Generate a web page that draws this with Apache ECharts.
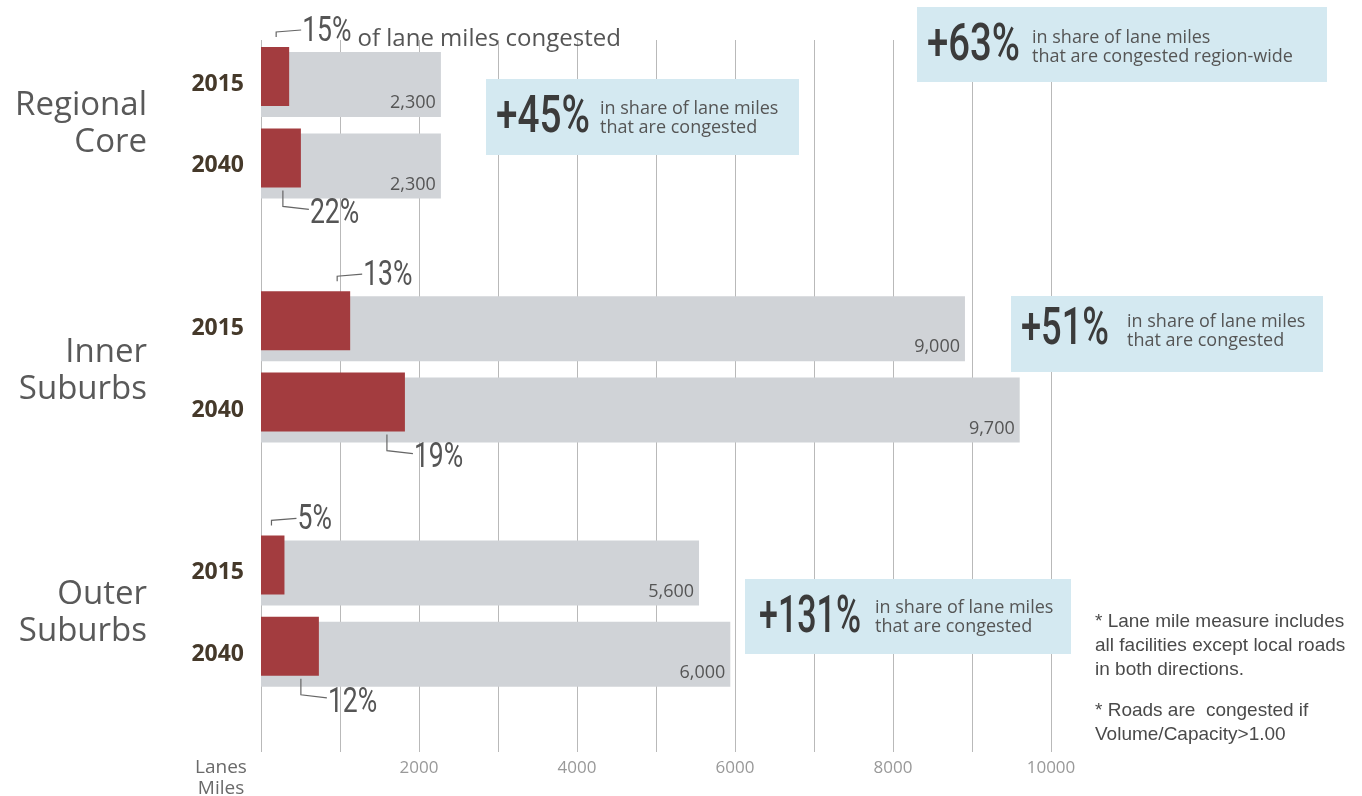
<!DOCTYPE html>
<html><head><meta charset="utf-8">
<script src="https://cdn.jsdelivr.net/npm/echarts@6/dist/echarts.min.js"></script>
<style>html,body{margin:0;padding:0;background:#fff}#c{width:1362px;height:796px}</style>
</head><body><div id="c"></div>
<script>
// ---- data ----
const rows = ['RC-2015','RC-2040','gap-1','IS-2015','IS-2040','gap-2','OS-2015','OS-2040'];
const yearLabels = ['2015','2040','','2015','2040','','2015','2040'];
const groups = ['Regional\nCore','Inner\nSuburbs','Outer\nSuburbs'];
const totalLaneMiles = [2300, 2300, null, 9000, 9700, null, 5600, 6000];
const congestedLaneMiles = [360, 510, null, 1140, 1840, null, 300, 740];
const congestedShare = ['15%','22%',null,'13%','19%',null,'5%','12%'];
const firstShareSuffix = 'of lane miles congested';
const changeBig = ['+45%','+63%','+51%','+131%'];
const changeText = ['in share of lane miles\nthat are congested','in share of lane miles\nthat are congested region-wide','in share of lane miles\nthat are congested','in share of lane miles\nthat are congested'];
const xTicks = [0,1000,2000,3000,4000,5000,6000,7000,8000,9000,10000];
const notes = ['* Lane mile measure includes\nall facilities except local roads\nin both directions.','* Roads are  congested if\nVolume/Capacity>1.00'];

// ---- chart ----
const chart = echarts.init(document.getElementById('c'), null, {renderer:'canvas'});
const SANS = '"Open Sans", "Noto Sans", sans-serif';
const BIG = 'Roboto, "Open Sans", sans-serif';
const band = 81.4;
const g0top = 43.8, g0h = band*8;
const hiddenX = (gi)=>({type:'value', gridIndex:gi, min:0, max:10100, show:false, splitLine:{show:false}});
const option = {
  animation:false,
  backgroundColor:'#fff',
  grid:[
    {left:261, width:790, top:g0top, height:g0h},
    {left:261, width:790, top:g0top-8, height:g0h},
    {left:261, width:790, top:40, bottom:44}
  ],
  xAxis:[
    hiddenX(0), hiddenX(1),
    {type:'value', gridIndex:2, min:xTicks[0], max:xTicks[xTicks.length-1], interval:1000,
     axisLine:{show:false}, axisTick:{show:false},
     splitLine:{show:true, lineStyle:{color:'#b9b9b9', width:1}},
     axisLabel:{margin:8, color:'#999', fontSize:17, fontFamily:SANS,
       formatter:v=> (v>0 && v%2000===0) ? String(v) : ''}}
  ],
  yAxis:[
    {type:'category', gridIndex:0, data:rows, inverse:true,
     axisLine:{show:false}, axisTick:{show:false}, splitLine:{show:false},
     axisLabel:{interval:0, margin:17, fontSize:23, fontWeight:'bold', color:'#45392a', fontFamily:SANS,
       padding:[0,0,6,0], formatter:(v,i)=>yearLabels[i]}},
    {type:'category', gridIndex:1, data:rows, inverse:true, show:false},
    {type:'value', gridIndex:2, show:false}
  ],
  series:[
    {type:'bar', name:'Lane miles', xAxisIndex:0, yAxisIndex:0, data:totalLaneMiles, barWidth:65,
     itemStyle:{color:'#d0d3d7'}, z:2,
     label:{show:true, position:'insideBottomRight', distance:5, color:'#555', fontSize:18, fontFamily:SANS,
       formatter:p=> p.value==null?'':Number(p.value).toLocaleString('en-US')}},
    {type:'bar', name:'Congested', xAxisIndex:1, yAxisIndex:1, data:congestedLaneMiles, barWidth:59,
     itemStyle:{color:'#a33c3f'}, z:3}
  ]
};
chart.setOption(option);

// ---- annotations computed through the chart's scales ----
const cv = document.createElement('canvas').getContext('2d');
function tw(text, size, fam, weight){ cv.font = (weight||'normal')+' '+size+'px '+fam; return cv.measureText(text).width; }
const G = [];
const pctSize = 35, pctScale = 0.76;
rows.forEach((r,i)=>{
  if (congestedLaneMiles[i]==null) return;
  const p = chart.convertToPixel({xAxisIndex:1, yAxisIndex:1}, [congestedLaneMiles[i], i]);
  const xEnd = p[0], yc = p[1];
  const top = yc - 29.5, bot = yc + 29.5;
  const upper = yearLabels[i]==='2015';
  let pts, tx, ty;
  if (upper){
    const ax = xEnd - 13;
    pts = [[ax, top-10],[ax, top-15],[ax+25, top-17]];
    tx = ax+26; ty = top-15;
  } else {
    const ax = xEnd - 18;
    pts = [[ax, bot+3],[ax, bot+19],[ax+26, bot+22]];
    tx = ax+27; ty = bot+27;
  }
  G.push({type:'polyline', shape:{points:pts}, style:{stroke:'#666', lineWidth:1.2, fill:null}, z:10});
  G.push({type:'text', x:tx, y:ty, scaleX:pctScale, z:10,
    style:{text:congestedShare[i], fontSize:pctSize, fontFamily:BIG, fill:'#555', verticalAlign:'middle', align:'left'}});
  if (i===0){
    const w = tw(congestedShare[i], pctSize, 'Roboto')*pctScale;
    G.push({type:'text', x:tx+w+6, y:ty+7, z:10,
      style:{text:firstShareSuffix, fontSize:24, fontFamily:SANS, fill:'#555', verticalAlign:'middle', align:'left'}});
  }
});
// group labels centred between their two rows
groups.forEach((g,k)=>{
  const a = chart.convertToPixel({xAxisIndex:0, yAxisIndex:0}, [0, k*3]);
  const b = chart.convertToPixel({xAxisIndex:0, yAxisIndex:0}, [0, k*3+1]);
  const dy = k===1 ? 2 : -1;
  G.push({type:'text', x:147, y:(a[1]+b[1])/2 + dy,
    style:{text:g, fontSize:33, fontFamily:SANS, fill:'#595959', align:'right', verticalAlign:'middle', lineHeight:37}});
});
// axis caption
G.push({type:'text', x:221, y:778, style:{text:'Lanes\nMiles', fontSize:19, fontFamily:SANS, fill:'#6a6a6a', align:'center', verticalAlign:'middle', lineHeight:21}});
// change boxes
const boxes = [
  {x:486, y:79, w:313, h:76, bx:496, by:119, sx:600, sy:118, bw:94},
  {x:917, y:7, w:410, h:75, bx:927, by:47, sx:1032, sy:47, bw:93},
  {x:1011, y:296, w:312, h:76, bx:1021, by:331, sx:1127, sy:331, bw:88},
  {x:745, y:579, w:326, h:75, bx:759, by:619, sx:875, sy:617, bw:102}
];
boxes.forEach((b,k)=>{
  const sc = b.bw / tw(changeBig[k], 52, 'Roboto', '500');
  G.push({type:'rect', shape:{x:b.x, y:b.y, width:b.w, height:b.h}, style:{fill:'#d4e9f1'}, z:20});
  G.push({type:'text', x:b.bx, y:b.by, scaleX:sc, z:21,
    style:{text:changeBig[k], fontSize:52, fontWeight:500, fontFamily:BIG, fill:'#3b3b3b', align:'left', verticalAlign:'middle'}});
  G.push({type:'text', x:b.sx, y:b.sy, z:21,
    style:{text:changeText[k], fontSize:18, fontFamily:SANS, fill:'#555', align:'left', verticalAlign:'middle', lineHeight:19}});
});
// notes
const NOTE = '"Liberation Sans", Arial, sans-serif';
G.push({type:'text', x:1095, y:646, style:{text:notes[0], fontSize:19, fontFamily:NOTE, fill:'#4a4a4a', align:'left', verticalAlign:'middle', lineHeight:24}});
G.push({type:'text', x:1095, y:723, style:{text:notes[1], fontSize:19, fontFamily:NOTE, fill:'#4a4a4a', align:'left', verticalAlign:'middle', lineHeight:24}});
chart.setOption({graphic:G});
</script>
</body></html>
